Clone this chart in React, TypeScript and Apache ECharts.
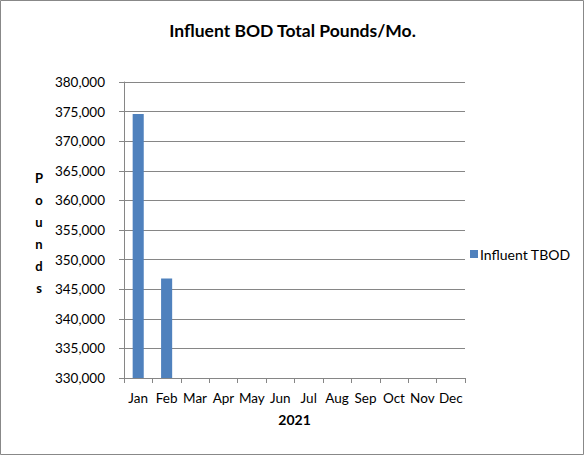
import React, { useEffect, useRef } from "react";
import * as echarts from "echarts";

const months = ["Jan", "Feb", "Mar", "Apr", "May", "Jun", "Jul", "Aug", "Sep", "Oct", "Nov", "Dec"];
const influentTBOD: (number | null)[] = [374600, 346800, null, null, null, null, null, null, null, null, null, null];
const seriesName = "Influent TBOD";
const chartTitle = "Influent BOD Total Pounds/Mo.";
const xAxisName = "2021";
const yAxisName = "Pounds";
const yMin = 330000;
const yMax = 380000;
const yStep = 5000;

const FONT = "Lato, 'Open Sans', sans-serif";

export default function App() {
  const ref = useRef<HTMLDivElement>(null);
  useEffect(() => {
    if (!ref.current) return;
    const chart = echarts.init(ref.current, null, { renderer: "svg" });
    chart.setOption({
      animation: false,
      backgroundColor: "#ffffff",
      textStyle: { fontFamily: FONT },
      title: {
        text: chartTitle,
        left: "center",
        top: 16,
        textStyle: { fontFamily: FONT, fontSize: 17.5, fontWeight: "bold", color: "#000" },
      },
      legend: {
        data: [seriesName],
        left: 465,
        top: 242,
        orient: "vertical",
        itemWidth: 8,
        itemHeight: 8,
        itemGap: 4,
        icon: "rect",
        textStyle: { fontFamily: FONT, fontSize: 14, color: "#000", padding: [0, 0, 0, -3] },
      },
      grid: { left: 124, right: 120, top: 82, bottom: 78, containLabel: false },
      xAxis: {
        type: "category",
        data: months,
        name: xAxisName,
        nameLocation: "middle",
        nameGap: 34,
        nameTextStyle: { fontFamily: FONT, fontSize: 14, fontWeight: "bold", color: "#000" },
        axisLine: { lineStyle: { color: "#868686" } },
        axisTick: { show: true, alignWithLabel: false, length: 5, lineStyle: { color: "#868686" } },
        axisLabel: { fontFamily: FONT, fontSize: 13.5, color: "#000", margin: 13, interval: 0 },
      },
      yAxis: {
        type: "value",
        min: yMin,
        max: yMax,
        interval: yStep,
        axisLine: { show: true, lineStyle: { color: "#868686" } },
        axisTick: { show: true, length: 5, lineStyle: { color: "#868686" } },
        splitLine: { show: true, lineStyle: { color: "#868686", width: 1 } },
        axisLabel: {
          fontFamily: FONT,
          fontSize: 13.5,
          color: "#000",
          margin: 19,
          formatter: (v: number) => v.toLocaleString("en-US"),
        },
      },
      graphic: [
        {
          type: "rect",
          shape: { x: 0.5, y: 0.5, width: 583, height: 454 },
          style: { fill: "none", stroke: "#888888", lineWidth: 1 },
          silent: true,
        },
        {
          type: "text",
          x: 39,
          y: 233,
          style: {
            text: yAxisName.split("").join("\n"),
            fontFamily: FONT,
            fontSize: 13,
            fontWeight: "bold",
            lineHeight: 22,
            fill: "#000",
            align: "center",
            verticalAlign: "middle",
          },
        },
      ],
      series: [
        {
          name: seriesName,
          type: "bar",
          data: influentTBOD,
          barWidth: "39%",
          itemStyle: { color: "#4F81BD" },
        },
      ],
    });
    return () => chart.dispose();
  }, []);
  return (
    <div
      ref={ref}
      style={{ position: "fixed", left: 0, top: 0, width: 585, height: 456 }}
    />
  );
}
